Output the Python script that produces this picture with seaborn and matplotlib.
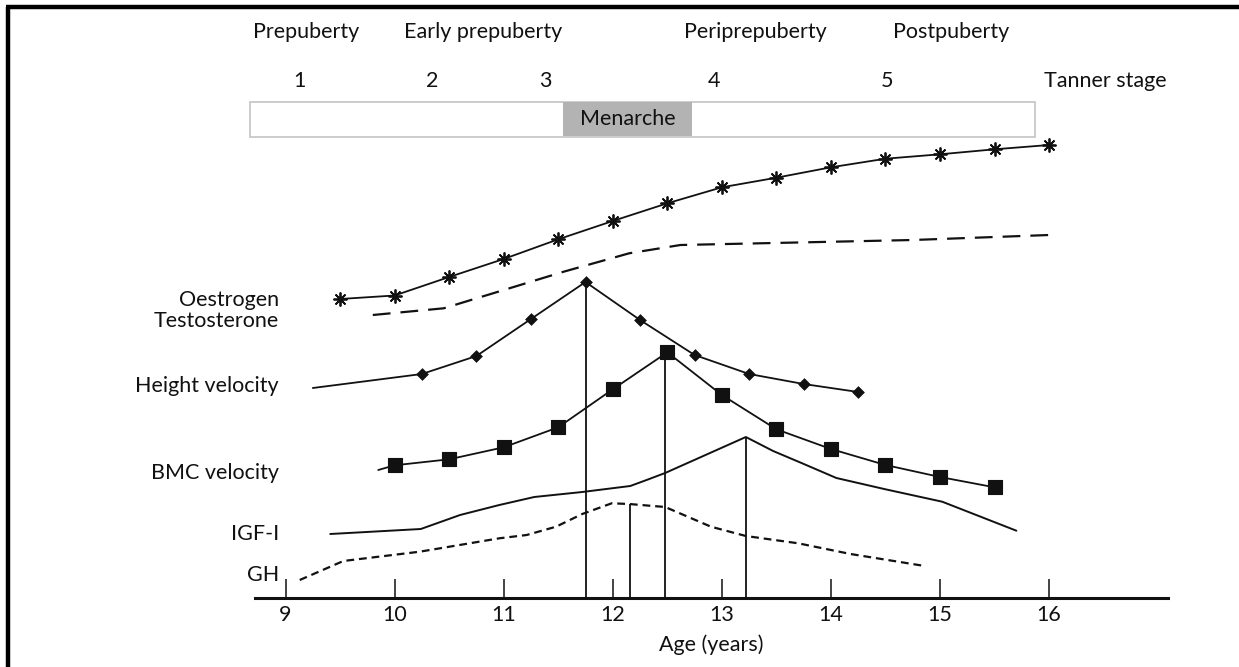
import numpy as np
import pandas as pd
import seaborn as sns
import matplotlib.pyplot as plt
from matplotlib.patches import Rectangle
from matplotlib.lines import Line2D

# --- 1. DATA (arbitrary height units above the age axis) ---
oest_age = [9.5, 10.0, 10.5, 11.0, 11.5, 12.0, 12.5, 13.0, 13.5, 14.0, 14.5, 15.0, 15.5, 16.0]
oest_val = [299, 302.5, 321, 339, 358.7, 377, 394.7, 410.7, 420.3, 430.7, 439.3, 443.7, 448.7, 453]

testo_age = [9.8, 10.45, 10.95, 11.55, 12.15, 12.62, 13.35, 14.75, 16.0]
testo_val = [283, 289.7, 306.3, 326.3, 344.7, 353, 354.7, 358, 363]

hv_age = [9.25, 10.25, 10.75, 11.25, 11.75, 12.25, 12.75, 13.25, 13.75, 14.25]
hv_val = [210, 224, 242, 279, 316, 278, 243, 224, 214, 206]

bmc_age = [9.85, 10.0, 10.5, 11.0, 11.5, 12.0, 12.5, 13.0, 13.5, 14.0, 14.5, 15.0, 15.5]
bmc_val = [128, 132.7, 138.7, 150.7, 170.7, 208.7, 245.7, 203, 168.7, 149, 133, 121, 110.7]

igf_age = [9.41, 10.24, 10.6, 10.96, 11.28, 11.72, 12.16, 12.31, 12.48, 13.22, 13.47, 13.73, 14.05, 14.5, 15.02, 15.7]
igf_val = [64, 69, 83, 93, 101, 106, 112, 118, 125, 161, 147, 135, 120, 108.7, 96.3, 67.3]

gh_age = [9.13, 9.53, 10.23, 10.96, 11.21, 11.48, 11.72, 11.99, 12.15, 12.48, 12.9, 13.22, 13.7, 14.18, 14.86]
gh_val = [18, 37, 46.3, 59.7, 63, 71.3, 84, 94.7, 94, 91, 71.3, 62, 54.7, 44, 32]

# ages where the vertical drop lines sit (peaks of HV, GH, BMC, IGF-I)
peak_age = [11.75, 12.16, 12.48, 13.22]
peak_series = ['hv', 'gh', 'bmc', 'igf']

series_labels = ['Oestrogen', 'Testosterone', 'Height velocity', 'BMC velocity', 'IGF-I', 'GH']

phase_labels = ['Prepuberty', 'Early prepuberty', 'Periprepuberty', 'Postpuberty']
phase_age = [9.19, 10.81, 13.31, 15.10]
tanner_labels = ['1', '2', '3', '4', '5']
tanner_age = [9.13, 10.34, 11.38, 12.93, 14.51]
menarche_start, menarche_end = 11.54, 12.73

age_ticks = [9, 10, 11, 12, 13, 14, 15, 16]

# --- 2. STYLE ---
sns.set_style("white")
plt.rcParams['font.family'] = ['Lato', 'DejaVu Sans']
INK = '#111111'
FS = 15.5

fig = plt.figure(figsize=(12.39, 6.67), dpi=100)
ax = fig.add_axes([255 / 1239, 69 / 667, 913 / 1239, 598 / 667])
ax.set_xlim(8.72, 17.09)
ax.set_ylim(0, 598)

series = {
    'oest': pd.DataFrame({'age': oest_age, 'val': oest_val}),
    'testo': pd.DataFrame({'age': testo_age, 'val': testo_val}),
    'hv': pd.DataFrame({'age': hv_age, 'val': hv_val}),
    'bmc': pd.DataFrame({'age': bmc_age, 'val': bmc_val}),
    'igf': pd.DataFrame({'age': igf_age, 'val': igf_val}),
    'gh': pd.DataFrame({'age': gh_age, 'val': gh_val}),
}

# --- 3. CURVES ---
sns.lineplot(data=series['oest'], x='age', y='val', ax=ax, color=INK, lw=1.3,
             marker=(8, 2, 0), markersize=10, markeredgewidth=1.3, markeredgecolor=INK)
sns.lineplot(data=series['testo'], x='age', y='val', ax=ax, color=INK, lw=1.6,
             linestyle=(0, (8, 4.5)))

sns.lineplot(data=series['hv'], x='age', y='val', ax=ax, color=INK, lw=1.3)
sns.scatterplot(data=series['hv'].iloc[1:], x='age', y='val', ax=ax, color=INK,
                marker='D', s=36, edgecolor=INK, zorder=3)

sns.lineplot(data=series['bmc'], x='age', y='val', ax=ax, color=INK, lw=1.3)
sns.scatterplot(data=series['bmc'].iloc[1:], x='age', y='val', ax=ax, color=INK,
                marker='s', s=100, edgecolor=INK, zorder=3)

sns.lineplot(data=series['igf'], x='age', y='val', ax=ax, color=INK, lw=1.4)
sns.lineplot(data=series['gh'], x='age', y='val', ax=ax, color=INK, lw=1.6,
             linestyle=(0, (3.5, 2.2)))

# vertical drop lines from the peaks down to the age axis
for a, key in zip(peak_age, peak_series):
    top = np.interp(a, series[key]['age'], series[key]['val'])
    ax.vlines(a, 0, top, color=INK, lw=1.3)

# --- 4. LEFT LABELS ---
label_val = [298, 277, 212, 125, 64, 23]
for lab, v in zip(series_labels, label_val):
    ax.text(8.94, v, lab, ha='right', va='center', fontsize=FS, color=INK, clip_on=False)

# --- 5. PUBERTY / TANNER PANEL ---
for lab, a in zip(phase_labels, phase_age):
    ax.text(a, 566, lab, ha='center', va='center', fontsize=FS, color=INK)
for lab, a in zip(tanner_labels, tanner_age):
    ax.text(a, 517, lab, ha='center', va='center', fontsize=FS, color=INK)
ax.text(15.95, 517, 'Tanner stage', ha='left', va='center', fontsize=FS, color=INK, clip_on=False)

ax.add_patch(Rectangle((8.67, 461.3), 15.87 - 8.67, 35, facecolor='white',
                       edgecolor='#c4c4c4', lw=1.2, clip_on=False, zorder=1))
ax.add_patch(Rectangle((menarche_start, 462), menarche_end - menarche_start, 33.6,
                       facecolor='#b3b3b3', edgecolor='none', clip_on=False, zorder=2))
ax.text((menarche_start + menarche_end) / 2, 478.6, 'Menarche', ha='center', va='center',
        fontsize=FS, color=INK, zorder=3)

# --- 6. AXIS ---
for side in ['left', 'right', 'top']:
    ax.spines[side].set_visible(False)
ax.spines['bottom'].set_linewidth(2.2)
ax.spines['bottom'].set_color(INK)
ax.set_yticks([])
ax.set_xticks(age_ticks)
ax.set_xticklabels([str(t) for t in age_ticks])
# seaborn's white style hides the bottom ticks, switch them back on (pointing up)
ax.tick_params(axis='x', bottom=True, direction='in', length=14, width=1.1, colors=INK,
               labelsize=FS, pad=5)
ax.set_xlabel('Age (years)', fontsize=FS, color=INK, labelpad=7)
ax.set_ylabel('')

# --- 7. FRAME (left and top bars of the original panel) ---
fig.add_artist(Line2D([8 / 1239, 8 / 1239], [0, 660 / 667], color='black', lw=3.2,
                      transform=fig.transFigure, solid_capstyle='butt'))
fig.add_artist(Line2D([6 / 1239, 1], [660 / 667, 660 / 667], color='black', lw=3.2,
                      transform=fig.transFigure, solid_capstyle='butt'))

plt.savefig('out.png', dpi=100)
